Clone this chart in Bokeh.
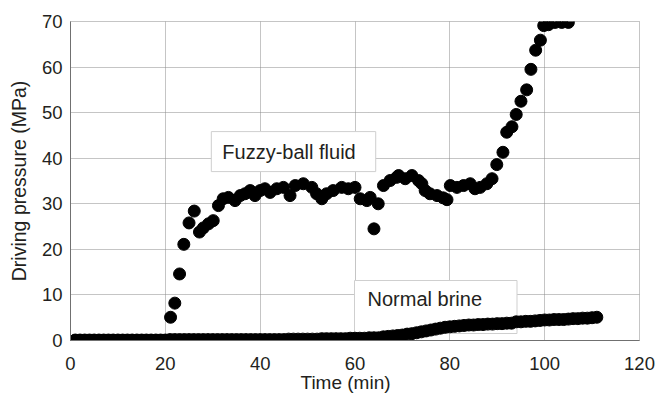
from bokeh.plotting import figure
from bokeh.models import Label, FixedTicker, Title
from bokeh.embed import file_html
from bokeh.resources import INLINE

# ---- data ----
fuzzy_time = [1, 2, 3, 4, 5, 6, 7, 8, 9, 10, 11, 12, 13, 14, 15, 16, 17, 18, 19, 20,
              21.1, 22.0, 23.0, 23.9, 25.0, 26.1, 27.2, 28.0, 29.1, 30.1, 31.2, 32.2,
              33.3, 34.7, 35.8, 36.8, 37.9, 38.9, 40.0, 41.0, 42.1, 43.5, 44.9, 46.3,
              47.4, 49.1, 50.9, 51.9, 53.0, 54.0, 55.4, 57.2, 58.6, 60.0, 61.1, 62.5,
              63.2, 64.0, 64.9, 66.0, 67.4, 68.8, 69.2, 70.6, 72.0, 73.4, 74.1, 74.8,
              75.8, 77.3, 78.6, 79.4, 80.1, 81.5, 82.9, 84.3, 85.3, 86.4, 87.8, 88.9,
              89.9, 91.2, 92.0, 93.1, 94.0, 95.0, 96.2, 97.1, 98.1, 99.1, 99.8, 100.8,
              102.2, 103.6, 105.0]
fuzzy_pressure = [0, 0, 0, 0, 0, 0, 0, 0, 0, 0, 0, 0, 0, 0, 0, 0, 0, 0, 0, 0,
                  5.1, 8.2, 14.6, 21.1, 25.8, 28.4, 23.8, 24.7, 25.6, 26.3, 29.6, 31.1,
                  31.4, 30.7, 31.8, 32.2, 32.9, 31.8, 32.9, 33.3, 32.5, 33.3, 33.6, 31.8,
                  34.0, 34.4, 33.6, 32.2, 31.1, 32.2, 32.9, 33.6, 33.3, 33.6, 31.1, 30.7,
                  31.4, 24.5, 30.0, 34.0, 35.1, 35.8, 36.2, 35.5, 36.2, 35.1, 34.4, 32.9,
                  32.2, 31.8, 31.3, 30.9, 34.0, 33.6, 34.0, 34.4, 33.3, 33.6, 34.4, 35.5,
                  38.6, 41.3, 45.7, 46.9, 49.6, 52.5, 55.0, 59.5, 63.7, 65.9, 69.1, 69.3,
                  69.8, 69.8, 69.8]

brine_time = list(range(1, 112))
brine_pressure = [0.1] * 20 + [0.2] * 25 + [0.3] * 7 + [0.4] * 6 + [0.5] * 4 + [0.6] * 3 + [
    0.8, 0.9, 1.0, 1.1, 1.2, 1.4, 1.5, 1.7, 1.9, 2.1, 2.3, 2.5, 2.7, 2.9, 3.0,
    3.1, 3.2, 3.3, 3.4, 3.4, 3.5, 3.5, 3.6, 3.6, 3.7, 3.7, 3.8, 3.8, 4.1, 4.1,
    4.2, 4.2, 4.3, 4.4, 4.5, 4.5, 4.6, 4.6, 4.6, 4.7, 4.8, 4.8, 4.9, 4.9, 5.0, 5.1]

x_ticks = [0, 20, 40, 60, 80, 100, 120]
y_ticks = [0, 10, 20, 30, 40, 50, 60, 70]

FONT = "Liberation Sans"
TXT = "#231f20"

p = figure(width=658, height=394, x_range=(0, 120), y_range=(0, 70),
           output_backend="svg", toolbar_location=None,
           min_border_left=70, min_border_right=19, min_border_top=21, min_border_bottom=54)

p.background_fill_color = "white"
p.border_fill_color = "white"
p.outline_line_color = "#8a8a8a"
p.outline_line_dash = "1 1"

p.xaxis.ticker = FixedTicker(ticks=x_ticks)
p.yaxis.ticker = FixedTicker(ticks=y_ticks)
p.axis.major_tick_line_color = None
p.axis.minor_tick_line_color = None
p.axis.major_tick_out = 0
p.axis.major_tick_in = 0
p.axis.axis_line_color = "#707070"
p.axis.major_label_text_font = FONT
p.axis.major_label_text_font_size = "18.5px"
p.axis.major_label_text_color = TXT
p.xaxis.major_label_standoff = 16
p.yaxis.major_label_standoff = 8

p.yaxis.axis_label = "Driving pressure (MPa)"
p.yaxis.axis_label_text_font = FONT
p.yaxis.axis_label_text_font_size = "19.5px"
p.yaxis.axis_label_text_font_style = "normal"
p.yaxis.axis_label_text_color = TXT
p.yaxis.axis_label_standoff = 9

p.grid.grid_line_color = "#8a8a8a"
p.grid.grid_line_dash = "1 1"
p.grid.grid_line_width = 1
p.xgrid.ticker = FixedTicker(ticks=x_ticks)
p.ygrid.ticker = FixedTicker(ticks=y_ticks)

fuzzy_lbl = Label(x=29.7, y=41.45, text="Fuzzy-ball fluid", text_baseline="middle",
                  text_font=FONT, text_font_size="20px", text_color=TXT,
                  background_fill_color="white", border_line_color="#cfcfcf",
                  padding=dict(left=11, right=20, top=9, bottom=9), level="underlay")
brine_lbl = Label(x=59.9, y=7.35, text="Normal brine", text_baseline="middle",
                  text_font=FONT, text_font_size="20px", text_color=TXT,
                  background_fill_color="white", border_line_color="#cfcfcf",
                  padding=dict(left=13, right=35, top=7, bottom=24), level="underlay")
p.add_layout(fuzzy_lbl)
p.add_layout(brine_lbl)

p.scatter(brine_time, brine_pressure, size=12, color="black")
p.scatter(fuzzy_time, fuzzy_pressure, size=12, color="black")

xtitle = Title(text="Time (min)", align="left", offset=230, standoff=-5,
               text_font=FONT, text_font_size="19px", text_font_style="normal",
               text_color=TXT)
p.add_layout(xtitle, "below")

open("out.html", "w").write(file_html(p, INLINE))
